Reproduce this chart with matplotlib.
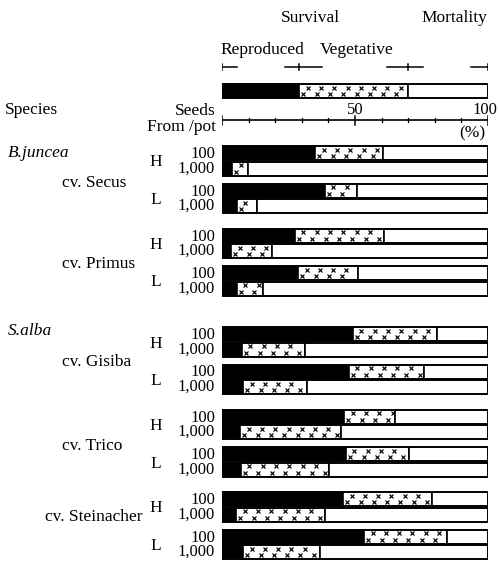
import matplotlib
matplotlib.use("Agg")
import matplotlib.pyplot as plt
import numpy as np

plt.rcParams['font.family'] = ['Liberation Serif', 'DejaVu Serif']

# ---------------- data ----------------
species = ["B.juncea", "S.alba"]
cultivars = [["cv. Secus", "cv. Primus"], ["cv. Gisiba", "cv. Trico", "cv. Steinacher"]]
levels = ["H", "L"]
seed_labels = ["100", "1,000"]

# cumulative boundaries (%): reproduced end, vegetative end (rest = mortality)
# order: per cultivar, H then L; each entry = (100 seeds, 1,000 seeds)
reproduced = [
    (35, 3.8), (38.7, 5.6),      # Secus H, L
    (27.4, 3.4), (28.6, 5.6),    # Primus H, L
    (49.2, 7.5), (47.7, 7.9),    # Gisiba H, L
    (45.9, 6.8), (46.6, 7.1),    # Trico H, L
    (45.5, 5.3), (53.4, 7.9),    # Steinacher H, L
]
survival = [
    (60.5, 9.8), (50.8, 13.0),
    (61.0, 18.8), (51.0, 15.4),
    (80.8, 31.2), (75.9, 31.9),
    (65.0, 44.7), (70.3, 40.2),
    (79.0, 38.7), (84.6, 36.8),
]
legend_bounds = [29, 70, 100]

# ---------------- layout ----------------
W, H = 498, 561
fig = plt.figure(figsize=(W / 100, H / 100), dpi=100)
x0px, x1px = 222, 488
ax = fig.add_axes([x0px / W, 0, (x1px - x0px) / W, 1])
ax.set_xlim(0, 100)
ax.set_ylim(H, 0)
ax.axis('off')

def ftext(px, py, s, **kw):
    fig.text(px / W, 1 - py / H, s, **kw)

FS = 12.5
NFS = 12
bar_h = 14.0
lw = 1.2

def draw_bar(ytop, r, s):
    yc = ytop + bar_h / 2
    ax.barh(yc, r, height=bar_h, left=0, color='black', edgecolor='black', lw=lw)
    ax.barh(yc, s - r, height=bar_h, left=r, color='white', edgecolor='black', lw=lw)
    ax.barh(yc, 100 - s, height=bar_h, left=s, color='white', edgecolor='black', lw=lw)
    ax.barh(yc, 100, height=bar_h, left=0, fill=False, edgecolor='black', lw=lw)
    # x-pattern on vegetative part
    step = 5.0
    for off, dy in [(3.2, -3.2), (1.6, 3.2)]:
        xs = np.arange(r + off, s - 0.8, step)
        if len(xs):
            ax.plot(xs, np.full(len(xs), yc + dy), ls='none', marker='x',
                    ms=2.2, mew=0.85, color='black')

# group tops (pixel rows)
gap_pair = 37.5
gap_cult = 45
gap_species = 61
tops = []
y = 146
for si, cl in enumerate(cultivars):
    if si > 0:
        y += gap_species
    for ci, c in enumerate(cl):
        if ci > 0:
            y += gap_cult
        for li in range(2):
            if li > 0:
                y += gap_pair
            tops.append(y)

cv_offsets = [2, 0, 0, 1, -10]
species_y = [153, 331]
gi = 0
ci_all = 0
for si, cl in enumerate(cultivars):
    ftext(8, species_y[si], species[si], fontsize=FS, style='italic', va='center', ha='left')
    for c in cl:
        centers = []
        for li, lev in enumerate(levels):
            t = tops[gi]
            r100, r1000 = reproduced[gi]
            s100, s1000 = survival[gi]
            draw_bar(t, r100, s100)
            draw_bar(t + bar_h + 1.5, r1000, s1000)
            ftext(215, t + bar_h / 2 + 1, seed_labels[0], fontsize=NFS, ha='right', va='center')
            ftext(215, t + bar_h * 1.5 + 1.5, seed_labels[1], fontsize=NFS, ha='right', va='center')
            pc = t + bar_h + 2.5
            centers.append(pc)
            ftext(156, pc, lev, fontsize=FS, ha='center', va='center')
            gi += 1
        ftext(62 if c != "cv. Steinacher" else 45, np.mean(centers) + cv_offsets[ci_all], c,
              fontsize=FS, ha='left', va='center')
        ci_all += 1

# ---------------- legend ----------------
ly = 84
draw_bar(ly, legend_bounds[0], legend_bounds[1])

bry = 67
brk = [(0, 5.6, 0), (23.7, 37.6, legend_bounds[0]), (62, 75.6, legend_bounds[1]),
       (93.6, 100, legend_bounds[2])]
for a, b, t in brk:
    ax.plot([a, b], [bry, bry], color='black', lw=1.1)
    ax.plot([t, t], [bry - 3, bry + 3], color='black', lw=1.1)

ftext(310, 18, "Survival", fontsize=FS, ha='center', va='center')
ftext(454, 18, "Mortality", fontsize=FS, ha='center', va='center')
ftext(262, 50, "Reproduced", fontsize=FS, ha='center', va='center')
ftext(357, 50, "Vegetative", fontsize=FS, ha='center', va='center')

# ---------------- scale ----------------
axy = 120
ax.plot([0, 100], [axy, axy], color='black', lw=1.2)
major = [0, 50, 100]
minor = [10, 20, 30, 40, 60, 70, 80, 90]
for m in major:
    ax.plot([m, m], [axy - 4.5, axy + 4.5], color='black', lw=1.1)
for m in minor:
    ax.plot([m, m], [axy - 2, axy + 2], color='black', lw=0.9)
ax.text(50, axy - 10, "50", fontsize=NFS, ha='center', va='center')
ftext(497, axy - 10, "100", fontsize=NFS, ha='right', va='center')
ftext(472, 133, "(%)", fontsize=FS, ha='center', va='center')

ftext(5, 110, "Species", fontsize=FS, ha='left', va='center')
ftext(216, 111, "Seeds", fontsize=FS, ha='right', va='center')
ftext(216, 127, "From /pot", fontsize=FS, ha='right', va='center')

fig.savefig("out.png", dpi=100)
